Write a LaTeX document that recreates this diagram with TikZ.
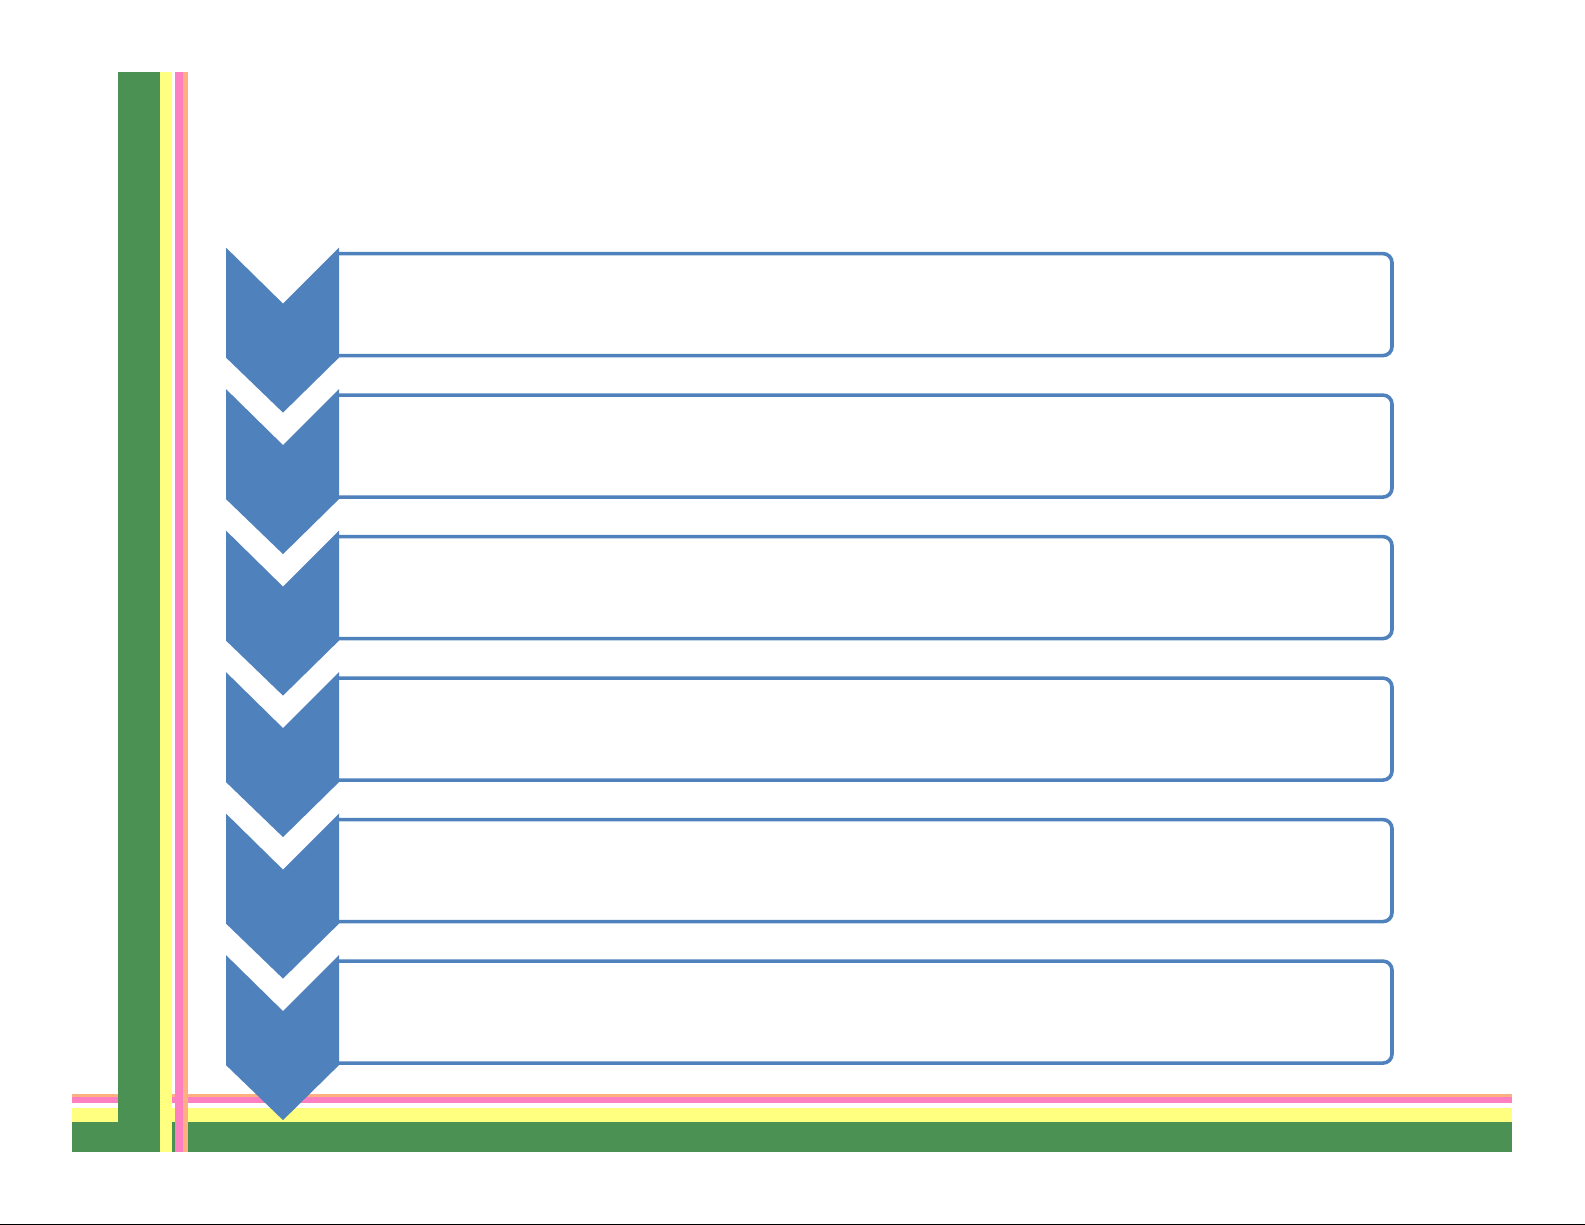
\documentclass[tikz,border=0pt]{standalone}
\definecolor{bandgreen}{RGB}{75,145,83}
\definecolor{bandyellow}{RGB}{255,255,128}
\definecolor{bandpink}{RGB}{255,128,192}
\definecolor{bandorange}{RGB}{255,176,128}
\definecolor{chevblue}{RGB}{79,129,189}
\tikzset{
    chevron/.style={fill=chevblue, draw=none},
    listbox/.style={draw=chevblue, line width=0.36mm, rounded corners=0.9mm}
}
\begin{document}
\begin{tikzpicture}[x=0.1mm, y=-0.1mm]
    \useasboundingbox (0,0) rectangle (1585,1225);

    % ==================== DẢI NGANG (DƯỚI) ====================
    \fill[bandorange] (72,1094) rectangle (1512,1097);
    \fill[bandpink]   (72,1097) rectangle (1512,1103);
    \fill[bandyellow] (72,1108) rectangle (1512,1122);
    \fill[bandgreen]  (72,1122) rectangle (1512,1152);

    % ==================== DẢI DỌC (TRÁI) ====================
    \fill[bandgreen]  (118,72) rectangle (160,1152);
    \fill[bandyellow] (160,72) rectangle (172,1152);
    \fill[bandpink]   (175,72) rectangle (183,1152);
    \fill[bandorange] (183,72) rectangle (188,1152);

    % ==================== CÁC KHUNG VÀ MŨI TÊN ====================
    \foreach \y in {247.6, 389.1, 530.6, 672.1, 813.6, 955.1} {
        % Khung chữ nhật bo góc phải
        \draw[listbox] (339,\y+6) -- (1392,\y+6) -- (1392,\y+108) -- (339,\y+108);
        % Mũi tên chữ V
        \fill[chevron] (226,\y) -- (283,\y+56) -- (339,\y) -- (339,\y+110)
            -- (283,\y+165) -- (226,\y+110) -- cycle;
    }

    % Đường viền đáy trang
    \draw[black, line width=0.1mm] (0,1224) -- (1585,1224);
\end{tikzpicture}
\end{document}
